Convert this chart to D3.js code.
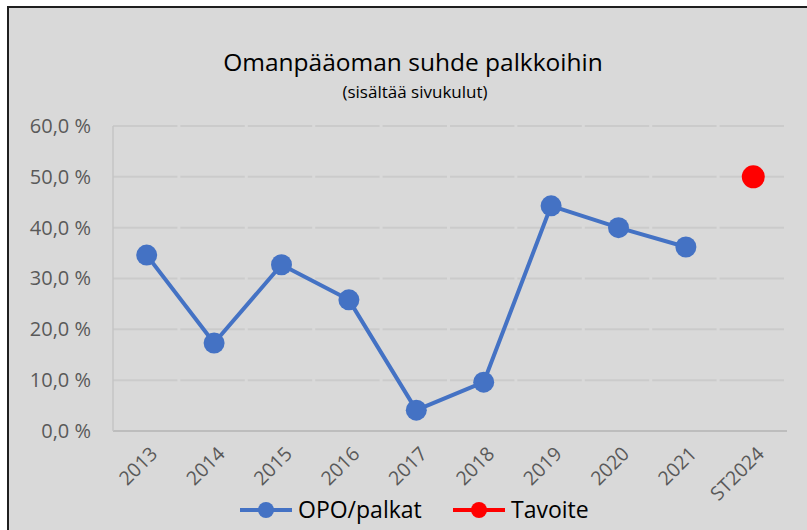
<!DOCTYPE html>
<html lang="fi">
<head>
<meta charset="UTF-8">
<title>Omanpääoman suhde palkkoihin</title>
<script src="https://d3js.org/d3.v7.min.js"></script>
<style>
	body { margin: 0; background: #fff; }
	text { font-family: "Open Sans", "Liberation Sans", sans-serif; }
</style>
</head>
<body>
<script>
// ----data----
var categories = ['2013', '2014', '2015', '2016', '2017', '2018', '2019', '2020', '2021', 'ST2024'];
var opoPalkat = [34.6, 17.3, 32.7, 25.8, 4.1, 9.6, 44.3, 40.0, 36.2, null];
var tavoite = [null, null, null, null, null, null, null, null, null, 50.0];
var yTicks = [0, 10, 20, 30, 40, 50, 60];

var W = 807, H = 530;
var margin = {top: 126, bottom: 99, left: 113, right: 20};
var width = W - margin.left - margin.right,
	height = H - margin.top - margin.bottom;

var svg = d3.select('body').append('svg')
	.attr('width', W)
	.attr('height', H);

// chart area background + dark border top/left
svg.append('rect')
	.attr('x', 8).attr('y', 7)
	.attr('width', W - 8).attr('height', H - 7)
	.attr('fill', '#d9d9d9');
svg.append('path')
	.attr('d', 'M8,' + H + 'V7H' + W)
	.attr('fill', 'none')
	.attr('stroke', '#1f1f1f')
	.attr('stroke-width', 2);

svg.append('text')
	.attr('x', 413).attr('y', 71)
	.attr('text-anchor', 'middle')
	.attr('font-size', 24.5)
	.attr('fill', '#000')
	.text('Omanpääoman suhde palkkoihin');
svg.append('text')
	.attr('x', 415).attr('y', 98)
	.attr('text-anchor', 'middle')
	.attr('font-size', 17)
	.attr('fill', '#000')
	.text('(sisältää sivukulut)');

var g = svg.append('g')
	.attr('transform', 'translate(' + margin.left + ',' + margin.top + ')');

var x = d3.scaleBand().domain(categories).range([0, width]);
var y = d3.scaleLinear().domain([0, 60]).range([height, 0]);
var bw = x.bandwidth();

// gridlines (small gaps at category boundaries)
g.append('g').selectAll('line')
	.data(yTicks.filter(function (d) { return d > 0; }))
	.join('line')
	.attr('x1', 0).attr('x2', width)
	.attr('y1', function (d) { return y(d); })
	.attr('y2', function (d) { return y(d); })
	.attr('stroke', '#cbcbcb')
	.attr('stroke-width', 2)
	.attr('stroke-dasharray', (bw - 3) + ',3');

// axes
g.append('line')
	.attr('x1', 0).attr('x2', width)
	.attr('y1', height).attr('y2', height)
	.attr('stroke', '#bdbdbd').attr('stroke-width', 2);
g.append('line')
	.attr('x1', 0).attr('x2', 0)
	.attr('y1', 0).attr('y2', height)
	.attr('stroke', '#c4c4c4').attr('stroke-width', 1.5);

var yAxis = g.append('g')
	.call(d3.axisLeft(y).tickValues(yTicks).tickSize(0).tickPadding(22)
		.tickFormat(function (d) { return d.toFixed(1).replace('.', ',') + ' %'; }));
yAxis.select('.domain').remove();
yAxis.selectAll('text')
	.attr('font-size', 20)
	.attr('fill', '#595959')
	.attr('font-family', '"Open Sans", "Liberation Sans", sans-serif');

var xAxis = g.append('g')
	.attr('transform', 'translate(0,' + height + ')')
	.call(d3.axisBottom(x).tickSize(0).tickPadding(0));
xAxis.select('.domain').remove();
xAxis.selectAll('text')
	.attr('font-size', 19.5)
	.attr('fill', '#595959')
	.attr('font-family', '"Open Sans", "Liberation Sans", sans-serif')
	.attr('text-anchor', 'end')
	.attr('dy', 0)
	.attr('transform', 'translate(12,24) rotate(-45)');

// line series
var cx = function (d, i) { return x(categories[i]) + bw / 2; };
var line = d3.line()
	.defined(function (d) { return d != null; })
	.x(cx)
	.y(function (d) { return y(d); });

g.append('path')
	.datum(opoPalkat)
	.attr('d', line)
	.attr('fill', 'none')
	.attr('stroke', '#4472c4')
	.attr('stroke-width', 4)
	.attr('stroke-linejoin', 'round');

g.append('g').selectAll('circle')
	.data(opoPalkat.map(function (v, i) { return {v: v, i: i}; }).filter(function (d) { return d.v != null; }))
	.join('circle')
	.attr('cx', function (d) { return cx(d.v, d.i); })
	.attr('cy', function (d) { return y(d.v); })
	.attr('r', 10.5)
	.attr('fill', '#4472c4');

g.append('g').selectAll('circle')
	.data(tavoite.map(function (v, i) { return {v: v, i: i}; }).filter(function (d) { return d.v != null; }))
	.join('circle')
	.attr('cx', function (d) { return cx(d.v, d.i); })
	.attr('cy', function (d) { return y(d.v); })
	.attr('r', 11.5)
	.attr('fill', '#ff0000');

// legend
var legend = [
	{name: 'OPO/palkat', color: '#4472c4', x: 240},
	{name: 'Tavoite', color: '#ff0000', x: 453}
];
var lg = svg.append('g').selectAll('g')
	.data(legend)
	.join('g')
	.attr('transform', function (d) { return 'translate(' + d.x + ',510)'; });
lg.append('line')
	.attr('x1', 0).attr('x2', 52)
	.attr('stroke', function (d) { return d.color; })
	.attr('stroke-width', 4);
lg.append('circle')
	.attr('cx', 26).attr('r', 8)
	.attr('fill', function (d) { return d.color; });
lg.append('text')
	.attr('x', 58).attr('y', 8)
	.attr('font-size', 23)
	.attr('fill', '#000')
	.text(function (d) { return d.name; });
</script>
</body>
</html>
